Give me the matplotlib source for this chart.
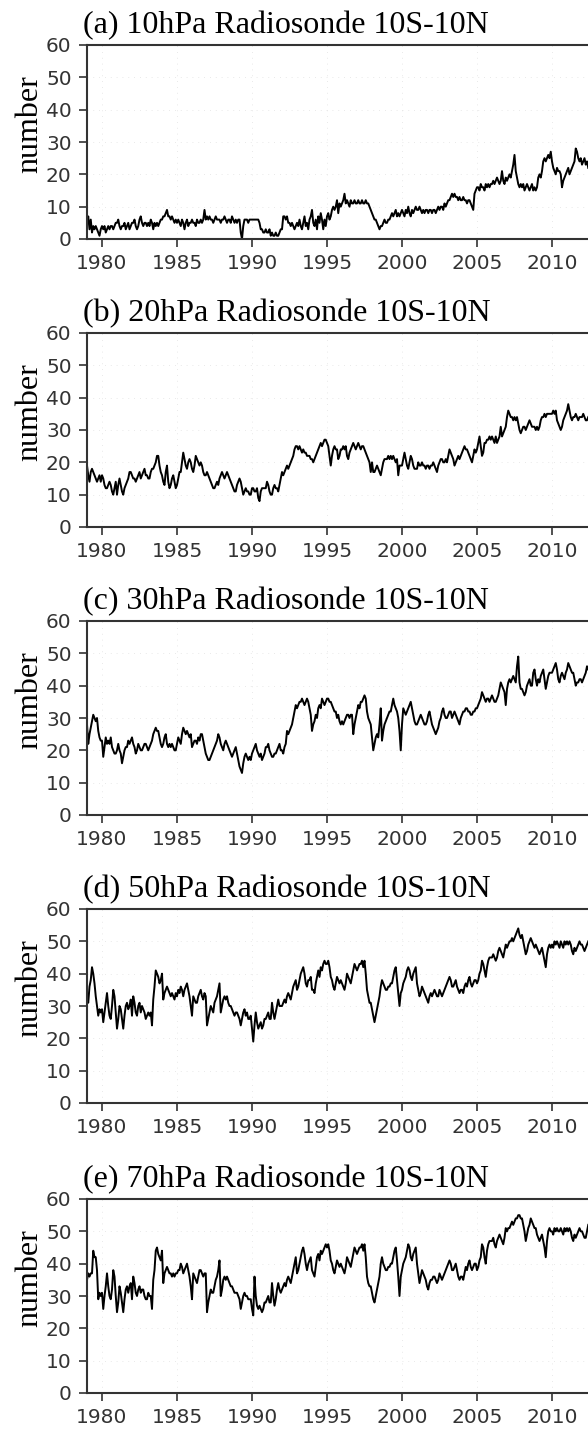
import numpy as np
import matplotlib.pyplot as plt

# monthly station counts, Jan 1979 - Jun 2012
n10 = [
    5, 7, 3, 6, 2, 4, 3, 4, 3, 2, 1, 3,  # 1979
    4, 3, 4, 2, 3, 4, 3, 4, 4, 3, 4, 5,  # 1980
    5, 6, 4, 3, 4, 4, 5, 3, 4, 5, 3, 4,  # 1981
    5, 5, 6, 4, 3, 4, 6, 7, 5, 4, 5, 5,  # 1982
    4, 5, 4, 6, 5, 3, 5, 4, 5, 4, 5, 6,  # 1983
    6, 7, 7, 8, 9, 7, 7, 6, 7, 6, 5, 6,  # 1984
    5, 6, 5, 4, 6, 5, 3, 5, 6, 4, 5, 5,  # 1985
    6, 5, 5, 4, 6, 5, 5, 6, 5, 6, 9, 6,  # 1986
    7, 6, 7, 6, 6, 5, 6, 7, 6, 6, 6, 5,  # 1987
    6, 6, 7, 6, 5, 6, 6, 5, 7, 6, 5, 6,  # 1988
    5, 6, 6, 2, 0, 4, 6, 6, 6, 5, 6, 6,  # 1989
    6, 6, 6, 6, 6, 6, 5, 3, 3, 2, 2, 3,  # 1990
    2, 2, 3, 1, 2, 1, 1, 2, 1, 1, 2, 3,  # 1991
    3, 7, 7, 6, 7, 5, 5, 4, 5, 4, 3, 4,  # 1992
    5, 4, 6, 4, 3, 5, 7, 4, 5, 3, 6, 7,  # 1993
    9, 5, 4, 6, 3, 7, 5, 8, 6, 3, 6, 4,  # 1994
    7, 8, 6, 7, 9, 10, 9, 10, 12, 8, 11, 10,  # 1995
    11, 12, 14, 11, 12, 11, 10, 12, 11, 11, 12, 11,  # 1996
    11, 12, 11, 11, 12, 11, 11, 12, 11, 11, 10, 9,  # 1997
    8, 7, 6, 6, 5, 4, 3, 4, 4, 5, 6, 5,  # 1998
    5, 6, 6, 7, 8, 7, 8, 9, 7, 8, 7, 8,  # 1999
    9, 8, 7, 9, 8, 10, 8, 7, 9, 8, 9, 10,  # 2000
    9, 9, 10, 9, 8, 9, 8, 9, 9, 8, 9, 9,  # 2001
    8, 9, 9, 8, 9, 10, 9, 10, 10, 9, 11, 10,  # 2002
    11, 12, 12, 13, 14, 13, 14, 13, 13, 12, 13, 12,  # 2003
    12, 13, 12, 12, 11, 12, 12, 11, 10, 9, 14, 15,  # 2004
    16, 16, 15, 17, 16, 16, 15, 17, 16, 17, 16, 17,  # 2005
    17, 18, 17, 18, 19, 18, 17, 18, 21, 18, 17, 19,  # 2006
    18, 19, 20, 19, 21, 23, 26, 21, 19, 17, 16, 17,  # 2007
    16, 17, 15, 16, 17, 16, 15, 16, 17, 15, 16, 15,  # 2008
    16, 19, 20, 19, 21, 24, 25, 24, 25, 26, 25, 27,  # 2009
    24, 22, 21, 20, 22, 21, 21, 20, 16, 18, 19, 20,  # 2010
    21, 22, 20, 21, 22, 23, 24, 28, 27, 25, 24, 25,  # 2011
    23, 24, 25, 23, 24, 22,  # 2012
]

n20 = [
    19, 16, 14, 17, 18, 17, 16, 15, 14, 15, 16, 14,  # 1979
    16, 15, 13, 12, 12, 13, 14, 13, 11, 10, 12, 14,  # 1980
    10, 13, 15, 13, 11, 10, 12, 13, 14, 15, 17, 17,  # 1981
    16, 15, 15, 14, 15, 16, 17, 15, 16, 17, 18, 16,  # 1982
    16, 15, 15, 17, 18, 18, 19, 20, 22, 22, 19, 17,  # 1983
    16, 14, 13, 17, 19, 14, 12, 13, 15, 16, 14, 12,  # 1984
    13, 15, 17, 17, 20, 23, 21, 19, 18, 20, 21, 20,  # 1985
    18, 17, 19, 22, 21, 20, 19, 20, 19, 17, 16, 16,  # 1986
    17, 16, 15, 14, 13, 12, 12, 13, 14, 13, 15, 16,  # 1987
    17, 16, 15, 16, 17, 16, 15, 14, 13, 12, 11, 11,  # 1988
    13, 14, 15, 14, 12, 10, 11, 12, 11, 11, 10, 10,  # 1989
    12, 12, 11, 11, 12, 9, 8, 11, 12, 12, 12, 12,  # 1990
    14, 13, 11, 10, 10, 12, 13, 12, 12, 11, 13, 15,  # 1991
    17, 16, 17, 18, 19, 18, 19, 20, 21, 22, 24, 25,  # 1992
    25, 24, 25, 24, 23, 24, 23, 23, 22, 22, 22, 21,  # 1993
    21, 20, 21, 22, 23, 24, 25, 26, 25, 26, 27, 27,  # 1994
    26, 25, 22, 19, 22, 24, 25, 24, 24, 21, 22, 24,  # 1995
    24, 25, 24, 25, 22, 21, 23, 24, 25, 26, 25, 24,  # 1996
    25, 26, 25, 24, 25, 25, 24, 23, 22, 21, 20, 17,  # 1997
    20, 17, 17, 18, 19, 18, 17, 16, 18, 20, 21, 21,  # 1998
    21, 22, 21, 22, 21, 22, 21, 20, 21, 16, 19, 19,  # 1999
    19, 21, 23, 21, 19, 18, 20, 22, 21, 19, 18, 18,  # 2000
    18, 20, 19, 19, 20, 19, 19, 18, 19, 19, 18, 19,  # 2001
    19, 20, 19, 18, 17, 19, 20, 21, 21, 20, 20, 21,  # 2002
    20, 22, 24, 23, 22, 21, 19, 20, 21, 22, 21, 22,  # 2003
    23, 24, 25, 24, 24, 23, 22, 21, 20, 22, 24, 23,  # 2004
    24, 26, 28, 25, 22, 23, 26, 26, 27, 27, 28, 27,  # 2005
    28, 27, 26, 28, 26, 27, 28, 31, 28, 29, 30, 31,  # 2006
    34, 36, 35, 34, 34, 33, 34, 33, 34, 32, 30, 29,  # 2007
    30, 31, 31, 30, 31, 32, 33, 32, 31, 31, 31, 30,  # 2008
    31, 30, 31, 33, 34, 34, 35, 34, 35, 35, 35, 35,  # 2009
    35, 36, 35, 36, 33, 32, 31, 30, 31, 33, 34, 35,  # 2010
    36, 38, 36, 34, 33, 34, 34, 35, 34, 33, 34, 34,  # 2011
    34, 35, 34, 33, 33, 34,  # 2012
]

n30 = [
    28, 22, 25, 27, 29, 31, 30, 29, 30, 26, 24, 23,  # 1979
    23, 18, 21, 24, 22, 23, 22, 24, 21, 20, 19, 19,  # 1980
    20, 22, 20, 19, 16, 18, 20, 21, 21, 23, 22, 23,  # 1981
    24, 22, 21, 19, 20, 22, 21, 20, 20, 21, 22, 22,  # 1982
    21, 20, 21, 22, 23, 25, 26, 27, 26, 26, 24, 22,  # 1983
    21, 22, 24, 25, 22, 21, 22, 21, 22, 21, 20, 20,  # 1984
    22, 24, 23, 22, 25, 27, 26, 25, 26, 25, 24, 25,  # 1985
    21, 22, 23, 23, 22, 24, 23, 25, 25, 23, 21, 19,  # 1986
    18, 17, 17, 18, 19, 20, 21, 22, 23, 25, 24, 22,  # 1987
    21, 20, 22, 23, 22, 21, 20, 19, 18, 19, 20, 21,  # 1988
    19, 17, 15, 14, 13, 16, 18, 19, 18, 17, 18, 17,  # 1989
    19, 20, 21, 22, 20, 19, 18, 19, 17, 18, 19, 21,  # 1990
    21, 22, 20, 19, 18, 18, 19, 19, 20, 21, 22, 20,  # 1991
    20, 19, 21, 22, 26, 25, 26, 27, 28, 30, 32, 34,  # 1992
    33, 34, 35, 35, 36, 35, 34, 35, 36, 35, 33, 31,  # 1993
    26, 28, 29, 31, 30, 33, 34, 33, 36, 35, 34, 35,  # 1994
    36, 36, 35, 35, 34, 33, 32, 32, 30, 31, 29, 28,  # 1995
    29, 28, 29, 30, 31, 31, 30, 31, 31, 25, 28, 30,  # 1996
    32, 34, 33, 35, 35, 36, 37, 36, 32, 30, 29, 28,  # 1997
    24, 20, 22, 24, 25, 24, 28, 33, 23, 26, 28, 29,  # 1998
    30, 31, 32, 32, 34, 36, 34, 33, 32, 30, 26, 20,  # 1999
    28, 33, 32, 31, 32, 33, 34, 35, 33, 31, 29, 28,  # 2000
    28, 29, 30, 31, 30, 29, 28, 28, 29, 31, 32, 30,  # 2001
    28, 27, 26, 25, 26, 27, 29, 30, 32, 33, 31, 30,  # 2002
    30, 31, 32, 32, 30, 31, 32, 31, 30, 29, 28, 30,  # 2003
    31, 32, 32, 33, 33, 32, 32, 31, 31, 32, 32, 33,  # 2004
    33, 34, 35, 36, 38, 37, 36, 35, 36, 36, 35, 36,  # 2005
    37, 36, 35, 35, 36, 37, 39, 41, 40, 39, 38, 34,  # 2006
    39, 41, 42, 41, 42, 43, 42, 41, 46, 49, 41, 39,  # 2007
    39, 38, 37, 38, 40, 41, 42, 40, 40, 44, 45, 42,  # 2008
    40, 42, 41, 43, 44, 45, 42, 39, 41, 43, 44, 44,  # 2009
    44, 45, 46, 47, 45, 42, 41, 43, 44, 43, 42, 44,  # 2010
    45, 47, 46, 45, 44, 44, 42, 40, 41, 41, 42, 42,  # 2011
    41, 42, 43, 44, 46, 45,  # 2012
]

n50 = [
    32, 31, 36, 38, 42, 40, 37, 33, 30, 27, 29, 28,  # 1979
    29, 25, 28, 31, 34, 30, 27, 26, 30, 35, 33, 28,  # 1980
    23, 26, 30, 29, 26, 23, 27, 30, 31, 29, 30, 32,  # 1981
    27, 33, 31, 28, 27, 30, 31, 28, 30, 29, 28, 26,  # 1982
    27, 28, 27, 28, 24, 32, 36, 41, 40, 39, 37, 38,  # 1983
    40, 32, 34, 35, 36, 35, 34, 33, 34, 33, 32, 34,  # 1984
    33, 35, 34, 36, 35, 33, 35, 36, 37, 35, 33, 30,  # 1985
    27, 33, 32, 31, 31, 33, 34, 35, 33, 32, 34, 33,  # 1986
    24, 26, 28, 30, 29, 28, 31, 32, 33, 35, 37, 28,  # 1987
    30, 32, 33, 32, 33, 31, 30, 30, 29, 28, 27, 28,  # 1988
    28, 27, 26, 24, 26, 28, 29, 27, 28, 26, 26, 27,  # 1989
    23, 19, 24, 28, 25, 23, 24, 25, 23, 24, 26, 26,  # 1990
    27, 28, 26, 26, 31, 28, 26, 28, 30, 32, 30, 30,  # 1991
    30, 31, 32, 31, 33, 34, 33, 32, 34, 36, 37, 38,  # 1992
    35, 36, 38, 40, 41, 42, 40, 37, 36, 38, 38, 39,  # 1993
    35, 35, 34, 37, 39, 41, 39, 42, 41, 43, 44, 43,  # 1994
    43, 44, 42, 39, 38, 36, 35, 37, 39, 38, 37, 38,  # 1995
    37, 36, 35, 37, 40, 39, 38, 37, 39, 41, 43, 42,  # 1996
    41, 42, 43, 43, 44, 42, 44, 40, 35, 33, 31, 31,  # 1997
    29, 27, 25, 27, 29, 31, 33, 36, 38, 37, 36, 35,  # 1998
    35, 36, 36, 37, 37, 39, 41, 42, 38, 34, 30, 34,  # 1999
    35, 37, 38, 39, 41, 42, 41, 39, 38, 40, 41, 42,  # 2000
    37, 35, 33, 34, 36, 35, 34, 33, 32, 31, 33, 34,  # 2001
    33, 34, 35, 34, 33, 33, 35, 34, 33, 34, 35, 36,  # 2002
    37, 38, 39, 38, 36, 36, 37, 38, 36, 35, 34, 35,  # 2003
    35, 34, 36, 37, 36, 38, 39, 37, 36, 37, 38, 38,  # 2004
    37, 38, 40, 41, 44, 43, 41, 39, 42, 44, 45, 45,  # 2005
    45, 46, 45, 44, 45, 47, 48, 47, 46, 45, 47, 49,  # 2006
    48, 49, 50, 50, 51, 50, 51, 52, 53, 54, 52, 51,  # 2007
    52, 50, 48, 46, 47, 49, 50, 51, 50, 49, 48, 49,  # 2008
    48, 47, 46, 47, 48, 46, 44, 42, 46, 48, 49, 48,  # 2009
    49, 48, 50, 49, 50, 49, 48, 50, 49, 48, 50, 49,  # 2010
    50, 49, 50, 49, 47, 46, 48, 47, 48, 49, 50, 49,  # 2011
    49, 48, 47, 48, 49, 50,  # 2012
]

n70 = [
    35, 37, 36, 37, 37, 44, 42, 42, 38, 29, 31, 30,  # 1979
    31, 26, 30, 33, 37, 33, 30, 29, 32, 38, 36, 30,  # 1980
    25, 28, 33, 31, 28, 25, 29, 32, 33, 31, 33, 34,  # 1981
    29, 36, 34, 31, 30, 32, 33, 31, 32, 32, 30, 29,  # 1982
    29, 31, 30, 30, 26, 35, 38, 44, 45, 43, 42, 41,  # 1983
    44, 34, 37, 38, 39, 38, 37, 37, 36, 37, 36, 37,  # 1984
    37, 38, 38, 40, 39, 37, 38, 39, 40, 38, 36, 33,  # 1985
    29, 37, 36, 35, 34, 36, 38, 38, 37, 36, 37, 37,  # 1986
    25, 28, 30, 32, 31, 31, 33, 35, 36, 38, 41, 30,  # 1987
    32, 35, 36, 35, 36, 35, 34, 33, 33, 32, 31, 31,  # 1988
    31, 30, 29, 26, 28, 30, 31, 30, 30, 29, 29, 29,  # 1989
    26, 24, 36, 30, 27, 26, 27, 26, 25, 26, 28, 28,  # 1990
    29, 30, 28, 28, 34, 30, 27, 29, 32, 34, 32, 31,  # 1991
    32, 33, 34, 33, 35, 36, 35, 34, 36, 38, 40, 42,  # 1992
    37, 38, 40, 42, 44, 45, 43, 40, 38, 40, 41, 42,  # 1993
    38, 37, 36, 39, 42, 43, 41, 44, 43, 44, 45, 46,  # 1994
    45, 46, 44, 41, 40, 38, 37, 39, 41, 40, 39, 40,  # 1995
    39, 38, 37, 39, 42, 41, 40, 39, 41, 43, 45, 44,  # 1996
    43, 44, 45, 45, 46, 44, 46, 42, 36, 34, 33, 33,  # 1997
    31, 29, 28, 30, 32, 34, 36, 40, 42, 40, 39, 38,  # 1998
    38, 39, 39, 40, 40, 42, 44, 45, 41, 36, 30, 36,  # 1999
    38, 40, 41, 42, 44, 46, 45, 42, 41, 43, 44, 45,  # 2000
    40, 37, 34, 36, 38, 37, 36, 35, 33, 32, 34, 35,  # 2001
    35, 36, 36, 35, 34, 35, 37, 36, 35, 36, 37, 38,  # 2002
    39, 40, 41, 40, 38, 38, 39, 40, 38, 36, 35, 36,  # 2003
    36, 35, 37, 39, 38, 40, 41, 39, 38, 39, 40, 40,  # 2004
    38, 39, 41, 42, 46, 45, 42, 40, 44, 46, 47, 47,  # 2005
    47, 48, 46, 45, 47, 48, 49, 48, 47, 46, 48, 51,  # 2006
    50, 51, 51, 52, 53, 52, 53, 54, 54, 55, 55, 54,  # 2007
    54, 52, 50, 47, 49, 51, 52, 54, 53, 52, 51, 51,  # 2008
    49, 48, 47, 48, 49, 47, 45, 42, 47, 50, 51, 50,  # 2009
    50, 49, 51, 50, 51, 50, 50, 51, 50, 49, 51, 50,  # 2010
    51, 50, 51, 50, 48, 47, 49, 48, 49, 50, 51, 50,  # 2011
    50, 49, 48, 48, 50, 52,  # 2012
]

series = [n10, n20, n30, n50, n70]
levels = ['10hPa', '20hPa', '30hPa', '50hPa', '70hPa']
letters = ['a', 'b', 'c', 'd', 'e']

W, H = 588, 1430
fig = plt.figure(figsize=(W / 100, H / 100), dpi=100)

tops = [45, 333, 621, 909, 1199]   # pixel row of each panel's top spine
ax_h = 194
ax_l = 87
ax_w = 510                          # runs past the right edge, as in the original

for i in range(5):
    ax = fig.add_axes([ax_l / W, 1 - (tops[i] + ax_h) / H, ax_w / W, ax_h / H])
    y = np.array(series[i])
    x = 1979 + np.arange(len(y)) / 12.0
    ax.plot(x, y, color='black', lw=1.4)

    ax.set_xlim(1979, 2013)
    ax.set_ylim(0, 60)
    ax.set_xticks(range(1980, 2011, 5))
    ax.set_yticks(range(0, 61, 10))
    ax.tick_params(direction='out', length=6, width=1.2, color='#333333',
                   labelsize=14.5, labelcolor='#333333', pad=5)
    for s in ax.spines.values():
        s.set_color('#333333')
        s.set_linewidth(1.5)
    ax.grid(color='#e2e2e2', linestyle=(0, (1, 6)), linewidth=0.6)

    ax.annotate('(' + letters[i] + ') ' + levels[i] + ' Radiosonde 10S-10N',
                xy=(0, 1), xycoords='axes fraction', xytext=(-4, 12),
                textcoords='offset pixels', ha='left', va='baseline',
                fontsize=23, family='Liberation Serif')
    ax.text(-57 / ax_w, 0.59, 'number', rotation=90, transform=ax.transAxes,
            ha='center', va='center', fontsize=23, family='Liberation Serif')

fig.savefig('out.png', dpi=100)
